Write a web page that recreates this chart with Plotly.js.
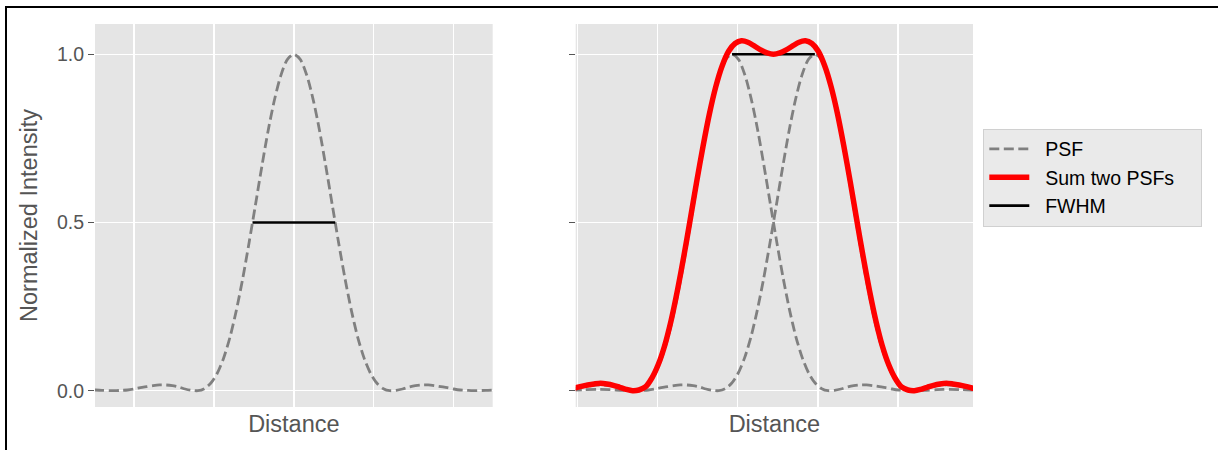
<!DOCTYPE html>
<html>
<head>
<meta charset="utf-8">
<script src="https://cdn.plot.ly/plotly-3.0.1.min.js"></script>
<style>
  html, body { margin: 0; padding: 0; background: #ffffff; }
  #wrap { position: relative; width: 1218px; height: 450px; overflow: hidden; }
  #chart { position: absolute; left: 0; top: 0; width: 1218px; height: 450px; }
  #frame { position: absolute; left: 5px; top: 6px; width: 1211px; height: 460px;
           border: 2px solid #000000; pointer-events: none; }
</style>
</head>
<body>
<div id="wrap">
  <div id="chart"></div>
  <div id="frame"></div>
</div>
<script>
// ---- data (distance in Airy-like units, intensity normalized) ----
const psfDist = [-9.5,-9,-8.5,-8,-7.5,-7,-6.75,-6.5,-6.25,-6,-5.75,-5.5,-5.25,-5,-4.75,-4.5,-4.25,-4,-3.75,-3.5,-3.25,-3,-2.75,-2.5,-2.25,-2,-1.75,-1.5,-1.25,-1,-0.75,-0.5,-0.25,
  0,0.25,0.5,0.75,1,1.25,1.5,1.75,2,2.25,2.5,2.75,3,3.25,3.5,3.75,4,4.25,4.5,4.75,5,5.25,5.5,5.75,6,6.25,6.5,6.75,7,7.5,8,8.5,9,9.5];
const psfInt = [0.001,0.003,0.004,0.003,0.001,0.000,0.001,0.002,0.005,0.009,0.012,0.015,0.017,0.017,0.015,0.011,0.005,0.001,0.000,0.006,0.022,0.051,0.096,0.158,0.238,0.333,0.440,0.553,0.667,0.775,0.867,0.939,0.985,
  1.000,0.985,0.939,0.867,0.775,0.667,0.553,0.440,0.333,0.238,0.158,0.096,0.051,0.022,0.006,0.000,0.001,0.005,0.011,0.015,0.017,0.017,0.015,0.012,0.009,0.005,0.002,0.001,0.000,0.001,0.003,0.004,0.003,0.001];

// centres of the two PSFs in the right panel (separated by one FWHM)
const psfCenters = [-1.616, 1.616];

const sumDist = [-8,-7.75,-7.5,-7.25,-7,-6.75,-6.5,-6.25,-6,-5.75,-5.5,-5.25,-5,-4.75,-4.5,-4.25,-4,-3.75,-3.5,-3.25,-3,-2.75,-2.5,-2.25,-2,-1.75,-1.5,-1.25,-1,-0.75,-0.5,-0.25,
  0,0.25,0.5,0.75,1,1.25,1.5,1.75,2,2.25,2.5,2.75,3,3.25,3.5,3.75,4,4.25,4.5,4.75,5,5.25,5.5,5.75,6,6.25,6.5,6.75,7,7.25,7.5,7.75,8];
const sumInt = [0.004,0.008,0.013,0.017,0.020,0.022,0.020,0.016,0.010,0.004,0.000,0.002,0.011,0.037,0.077,0.133,0.207,0.297,0.399,0.508,0.620,0.726,0.823,0.904,0.966,1.009,1.032,1.040,1.036,1.025,1.013,1.004,
  1.000,1.004,1.013,1.025,1.036,1.040,1.032,1.009,0.966,0.904,0.823,0.726,0.620,0.508,0.399,0.297,0.207,0.133,0.077,0.037,0.011,0.002,0.000,0.004,0.010,0.016,0.020,0.022,0.020,0.017,0.013,0.008,0.004];

// FWHM markers
const fwhmLeftX = [-1.616, 1.616];
const fwhmLeftY = [0.5, 0.5];
const fwhmRightY = [1.0, 1.0];

// axis ticks / gridlines
const yTickVals = [0, 0.5, 1.0];
const yTickText = ['0.0', '0.5', '1.0'];
const xGridLeft = [-6.25, -3.125, 0, 3.125, 6.25];
const xGridRight = [-7.641, -4.516, -1.391, 1.734, 4.859];

const labels = { psf: 'PSF', sum: 'Sum two PSFs', fwhm: 'FWHM', x: 'Distance', y: 'Normalized Intensity' };

// ---- styles ----
const FONT = '"Liberation Sans", Arial, Helvetica, sans-serif';
const GREY = '#808080';
const dashStyle = { color: GREY, width: 2.8, dash: '10px,4.5px', shape: 'spline', smoothing: 0.8 };
const LPAD = '&nbsp;&nbsp;';
const RPAD = '&nbsp;&nbsp;&nbsp;&nbsp;';

const traces = [];
traces.push({ x: psfDist, y: psfInt, xaxis: 'x', yaxis: 'y', mode: 'lines', name: LPAD + labels.psf,
  line: dashStyle, showlegend: true, legendrank: 1, legendgroup: 'g1', hoverinfo: 'skip' });
traces.push({ x: fwhmLeftX, y: fwhmLeftY, xaxis: 'x', yaxis: 'y', mode: 'lines', name: LPAD + labels.fwhm,
  line: { color: '#000000', width: 2.6 }, showlegend: true, legendrank: 3, legendgroup: 'g3', hoverinfo: 'skip' });
psfCenters.forEach(function (c) {
  traces.push({ x: psfDist.map(function (d) { return d + c; }), y: psfInt, xaxis: 'x2', yaxis: 'y2',
    mode: 'lines', name: labels.psf, line: dashStyle, showlegend: false, legendgroup: 'g1', hoverinfo: 'skip' });
});
traces.push({ x: psfCenters, y: fwhmRightY, xaxis: 'x2', yaxis: 'y2', mode: 'lines', name: labels.fwhm,
  line: { color: '#000000', width: 2.6 }, showlegend: false, legendgroup: 'g3', hoverinfo: 'skip' });
traces.push({ x: sumDist, y: sumInt, xaxis: 'x2', yaxis: 'y2', mode: 'lines', name: LPAD + labels.sum + RPAD,
  line: { color: '#FF0000', width: 5.5, shape: 'spline', smoothing: 0.8 }, showlegend: true, legendrank: 2, legendgroup: 'g2', hoverinfo: 'skip' });

const yRange = [-0.0485, 1.0901];
const commonX = {
  showticklabels: false, ticks: '', showgrid: true, gridcolor: '#FFFFFF', gridwidth: 1.3,
  zeroline: false, showline: false, tickmode: 'array',
  title: { text: labels.x, font: { family: FONT, size: 23.5, color: '#555555' }, standoff: 8 }
};
const commonY = {
  range: yRange, tickmode: 'array', tickvals: yTickVals, ticktext: yTickText,
  ticks: 'outside', ticklen: 6, tickwidth: 1.2, tickcolor: '#555555',
  showgrid: true, gridcolor: '#FFFFFF', gridwidth: 1.3, zeroline: false, showline: false,
  tickfont: { family: FONT, size: 19.5, color: '#555555' }
};

const layout = {
  width: 1218, height: 450,
  margin: { l: 95, r: 245, t: 24, b: 43, pad: 0 },
  paper_bgcolor: '#FFFFFF', plot_bgcolor: '#E5E5E5',
  font: { family: FONT, color: '#555555' },
  xaxis: Object.assign({}, commonX, { domain: [0, 0.45296], range: [-7.773, 7.773], tickvals: xGridLeft, anchor: 'y' }),
  xaxis2: Object.assign({}, commonX, { domain: [0.54749, 1], range: [-7.719, 7.789], tickvals: xGridRight, anchor: 'y2' }),
  yaxis: Object.assign({}, commonY, { anchor: 'x',
    title: { text: labels.y, font: { family: FONT, size: 23.5, color: '#555555' }, standoff: 12 } }),
  yaxis2: Object.assign({}, commonY, { anchor: 'x2', showticklabels: false }),
  showlegend: true,
  legend: {
    x: 1.01173, y: 0.7266, xanchor: 'left', yanchor: 'top',
    bgcolor: '#EAEAEA', bordercolor: '#D0D0D0', borderwidth: 1,
    font: { family: FONT, size: 19.5, color: '#000000' },
    itemwidth: 40, traceorder: 'grouped', tracegroupgap: 0
  },
  hovermode: false
};

Plotly.newPlot('chart', traces, layout, { staticPlot: true, displayModeBar: false });
</script>
</body>
</html>
